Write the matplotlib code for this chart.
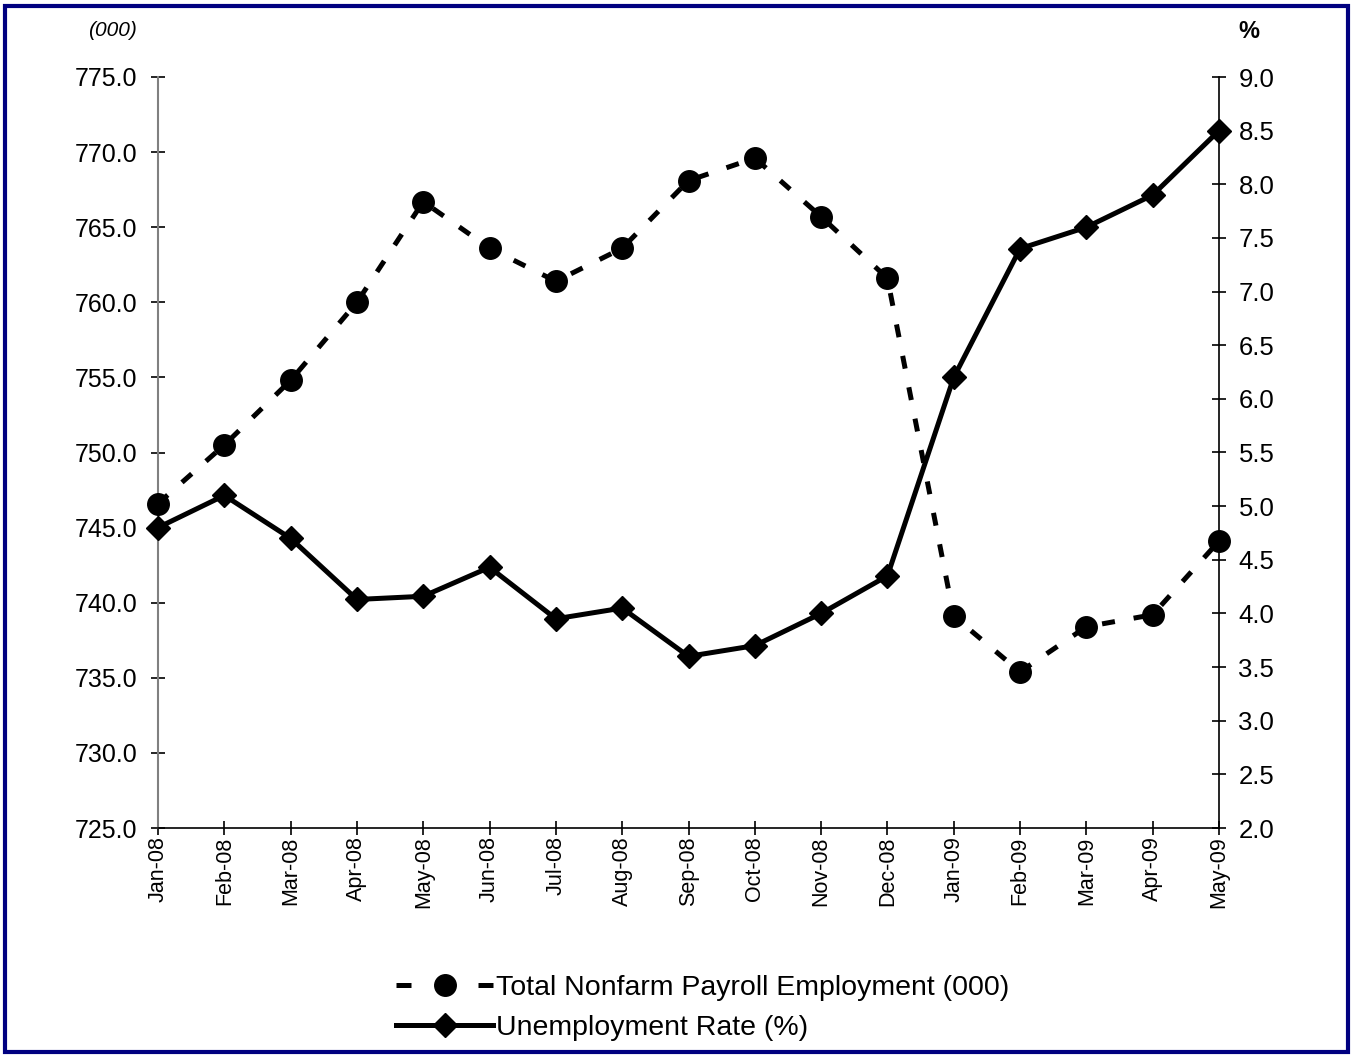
import matplotlib.pyplot as plt
from matplotlib.patches import Rectangle
from matplotlib.lines import Line2D

plt.rcParams['font.family'] = ['Liberation Sans', 'DejaVu Sans']

# Monthly data, Jan-08 to May-09
months = ['Jan-08', 'Feb-08', 'Mar-08', 'Apr-08', 'May-08', 'Jun-08', 'Jul-08',
          'Aug-08', 'Sep-08', 'Oct-08', 'Nov-08', 'Dec-08', 'Jan-09', 'Feb-09',
          'Mar-09', 'Apr-09', 'May-09']
payroll = [746.6, 750.5, 754.8, 760.0, 766.7, 763.6, 761.4, 763.6, 768.1,
           769.6, 765.7, 761.6, 739.1, 735.4, 738.4, 739.2, 744.1]
unemp = [4.8, 5.1, 4.7, 4.13, 4.16, 4.43, 3.95, 4.05, 3.6, 3.7, 4.0, 4.35,
         6.2, 7.4, 7.6, 7.9, 8.5]

left_ticks = [725.0, 730.0, 735.0, 740.0, 745.0, 750.0, 755.0, 760.0, 765.0, 770.0, 775.0]
right_ticks = [2.0, 2.5, 3.0, 3.5, 4.0, 4.5, 5.0, 5.5, 6.0, 6.5, 7.0, 7.5, 8.0, 8.5, 9.0]

fig = plt.figure(figsize=(13.54, 10.55), dpi=100)
ax = fig.add_axes([158 / 1354, 1 - 828 / 1055, (1219 - 158) / 1354, (828 - 77) / 1055])
ax2 = ax.twinx()

x = list(range(len(months)))
lw = 3.6

# payroll series (left axis)
ax.plot(x, payroll, color='black', linewidth=lw, linestyle=(0, (2.6, 3.8)),
        marker='o', markersize=15.5, zorder=3, clip_on=False)
ax.set_ylim(725, 775)
ax.set_xlim(0, len(months) - 1)
ax.set_yticks(left_ticks)
ax.set_yticklabels([f'{v:.1f}' for v in left_ticks], fontsize=18)
ax.set_xticks(x)
ax.set_xticklabels(months, rotation=90, fontsize=15.5)

# unemployment series (right axis)
ax2.plot(x, unemp, color='black', linewidth=lw, marker='D', markersize=12,
         zorder=3, clip_on=False)
ax2.set_ylim(2.0, 9.0)
ax2.set_yticks(right_ticks)
ax2.set_yticklabels([f'{v:.1f}' for v in right_ticks], fontsize=18.5)

for a in (ax, ax2):
    a.spines['top'].set_visible(False)
    a.patch.set_visible(False)
ax.spines['right'].set_visible(False)
ax2.spines['left'].set_visible(False)
ax2.spines['bottom'].set_visible(False)
ax.spines['left'].set_color('#808080')
ax.spines['left'].set_linewidth(1.5)
ax.spines['bottom'].set_linewidth(1.2)
ax2.spines['right'].set_linewidth(1.2)

ax.tick_params(axis='y', direction='inout', length=10, width=1.2, pad=10)
ax.tick_params(axis='x', direction='inout', length=10, width=1.2, pad=1)
ax2.tick_params(axis='y', direction='inout', length=10, width=1.2, pad=9)

# axis unit labels
fig.text(112 / 1354, 1 - 30 / 1055, '(000)', fontsize=15, style='italic',
         ha='center', va='center')
fig.text(1249 / 1354, 1 - 32 / 1055, '%', fontsize=17, fontweight='bold',
         ha='center', va='center')

# legend below the plot
handles = [
    Line2D([], [], color='black', linewidth=lw, linestyle=(0, (3, 13.4)),
           marker='o', markersize=15.5),
    Line2D([], [], color='black', linewidth=lw, marker='D', markersize=12),
]
labels = ['Total Nonfarm Payroll Employment (000)', 'Unemployment Rate (%)']
fig.legend(handles, labels, loc='center left', bbox_to_anchor=(382 / 1354, 1 - 1008 / 1055),
           frameon=False, fontsize=20.5, handlelength=3.4, handletextpad=0.1,
           labelspacing=0.5, borderpad=0)

# navy figure border
fig.patches.append(Rectangle((5 / 1354, 3 / 1055), 1343 / 1354, 1046 / 1055,
                             transform=fig.transFigure, fill=False,
                             edgecolor='#000080', linewidth=3, zorder=10))

fig.savefig('out.png', dpi=100)
